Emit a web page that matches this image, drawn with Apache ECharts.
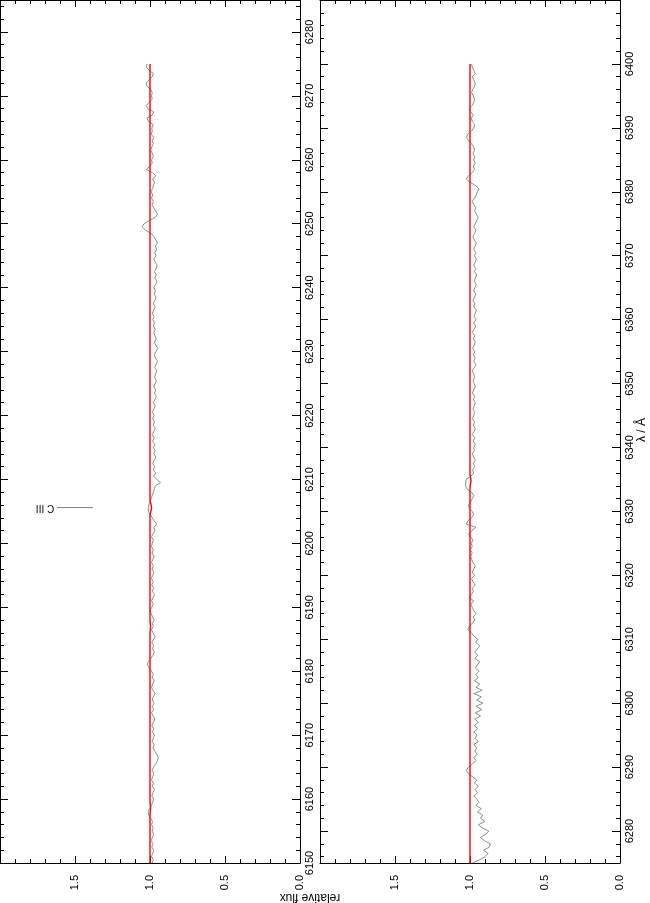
<!DOCTYPE html>
<html><head><meta charset="utf-8">
<script src="https://cdn.jsdelivr.net/npm/echarts@6/dist/echarts.min.js"></script>
<style>html,body{margin:0;padding:0;background:#fff}#c{width:650px;height:903px}</style>
</head><body><div id="c"></div>
<script>
// wavelength grid of the spectra (Angstrom)
const lamStep = 0.5;
const leftStart = 6150;
const rightStart = 6275;
const leftRange = [6150, 6285];
const rightRange = [6275, 6410];
const fluxRange = [0, 2];

// observed relative flux, left panel (6150 - 6275 A)
const leftFlux = [
0.985,0.978,0.990,0.982,0.975,0.988,0.980,0.992,0.984,0.976,
0.986,0.979,0.990,0.983,0.995,1.008,1.012,1.004,0.990,0.982,
0.975,0.988,0.980,0.970,0.985,0.978,0.990,0.982,0.974,0.986,
0.975,0.962,0.950,0.945,0.955,0.968,0.980,0.972,0.985,0.978,
0.970,0.983,0.975,0.988,0.978,0.968,0.980,0.990,0.976,0.984,
0.972,0.985,0.978,0.966,0.980,0.990,0.982,0.972,0.986,0.978,
0.990,1.005,1.018,1.012,0.995,0.980,0.970,0.984,0.976,0.988,
0.975,0.966,0.980,0.990,0.978,0.985,0.972,0.982,0.992,1.000,
0.988,0.978,0.990,0.980,0.970,0.984,0.976,0.988,0.978,0.992,
0.982,0.974,0.986,0.978,0.990,0.982,0.972,0.986,0.978,0.990,
0.985,0.978,0.990,0.980,0.966,0.975,0.955,0.972,0.985,0.998,
1.010,1.012,1.008,1.000,0.992,0.985,0.978,0.970,0.965,0.930,
0.955,0.975,0.962,0.978,0.968,0.982,0.972,0.960,0.975,0.965,
0.978,0.968,0.982,0.972,0.985,0.975,0.965,0.978,0.970,0.982,
0.972,0.984,0.975,0.965,0.978,0.968,0.958,0.970,0.962,0.975,
0.965,0.958,0.970,0.962,0.955,0.968,0.960,0.950,0.964,0.972,
0.960,0.948,0.962,0.970,0.958,0.968,0.975,0.965,0.978,0.970,
0.982,0.972,0.985,0.975,0.965,0.978,0.968,0.960,0.972,0.964,
0.975,0.962,0.955,0.968,0.958,0.970,0.960,0.952,0.965,0.975,
0.960,0.968,0.955,0.965,0.950,0.962,0.975,0.992,1.030,1.052,
1.040,1.005,0.965,0.950,0.962,0.975,0.985,0.978,0.990,0.982,
0.992,0.984,0.976,0.970,0.984,0.960,0.985,1.025,1.000,0.985,
0.990,0.978,0.985,0.995,0.988,0.978,0.985,0.975,0.992,0.985,
0.988,0.978,1.010,1.020,0.985,0.975,1.015,1.025,1.005,0.985,
0.990,0.985,0.995,1.020,1.025,1.005,0.985,0.978,1.005,1.025,
1.020
];

// observed relative flux, right panel (6275 - 6400 A)
const rightFlux = [
0.985,0.935,0.900,0.880,0.910,0.870,0.865,0.905,0.930,0.895,
0.875,0.920,0.945,0.900,0.930,0.915,0.950,0.925,0.960,0.940,
0.955,0.975,0.950,0.965,0.945,0.970,0.955,0.985,1.010,1.025,
1.010,0.985,0.960,0.975,0.950,0.968,0.955,0.975,0.945,0.965,
0.955,0.975,0.950,0.970,0.945,0.968,0.930,0.965,0.920,0.960,
0.915,0.955,0.925,0.975,0.920,0.960,0.935,0.970,0.945,0.960,
0.940,0.965,0.950,0.935,0.968,0.948,0.970,0.950,0.935,0.962,
0.948,0.975,0.990,1.015,1.005,0.985,0.968,0.978,0.960,0.975,
0.985,0.995,0.975,1.005,0.990,0.978,0.985,0.965,0.980,0.990,
0.970,0.985,0.975,0.965,0.980,0.990,0.995,0.985,0.998,0.985,
0.992,0.980,0.995,1.010,0.985,0.960,1.025,1.015,0.990,0.975,
0.985,1.005,1.010,0.995,0.985,0.975,0.990,1.020,1.030,1.028,
1.025,0.995,0.975,0.982,0.968,0.978,0.965,0.975,0.985,0.970,
0.975,0.965,0.978,0.968,0.985,0.972,0.965,0.978,0.970,0.985,
0.975,0.968,0.980,0.972,0.965,0.978,0.968,0.985,0.975,0.965,
0.972,0.980,0.968,0.975,0.985,0.970,0.962,0.975,0.965,0.978,
0.968,0.982,0.972,0.965,0.978,0.968,0.985,0.972,0.962,0.975,
0.960,0.972,0.965,0.958,0.975,0.968,0.980,0.970,0.962,0.975,
0.968,0.958,0.972,0.965,0.955,0.970,0.962,0.975,0.965,0.958,
0.970,0.962,0.975,0.965,0.958,0.972,0.980,0.968,0.960,0.975,
0.965,0.955,0.945,0.958,0.970,0.962,0.975,0.985,0.970,0.958,
0.950,0.942,0.965,1.000,1.025,1.010,0.985,0.970,0.978,0.965,
0.975,0.968,0.980,0.970,0.975,0.990,1.010,1.025,1.015,0.990,
0.975,0.968,0.985,0.992,0.978,0.995,1.005,0.985,0.975,0.970,
0.978,0.990,0.982,0.970,0.965,0.975,0.985,0.965,0.975,0.985,
0.990
];

// model fit (red), [wavelength, flux]
const leftFitLam  = [6150, 6157.5, 6158.6, 6159.7, 6186.0, 6187.0, 6188.0, 6204.4, 6205.6, 6206.8, 6275];
const leftFitFlux = [1.000, 1.000, 0.996, 1.000, 1.000, 0.996, 1.000, 1.000, 0.989, 1.000, 1.000];
const rightFitLam  = [6275, 6333.8, 6334.8, 6335.8, 6400];
const rightFitFlux = [1.000, 1.000, 0.993, 1.000, 1.000];

// tick labels
const leftTicks  = [6150,6160,6170,6180,6190,6200,6210,6220,6230,6240,6250,6260,6270,6280];
const rightTicks = [6280,6290,6300,6310,6320,6330,6340,6350,6360,6370,6380,6390,6400];
const minorStep = 2;

// line identification
const lineLabel = 'C III';
const lineLam = 6205.6;
const lineFrom = 1.38, lineTo = 1.62, lineTextAt = 1.70;

const FONT = "'Liberation Sans', Arial, Helvetica, sans-serif";

function minors(r) {
  const out = [];
  for (let v = Math.ceil(r[0] / minorStep) * minorStep; v <= r[1]; v += minorStep) out.push(v);
  return out;
}
function pairs(start, arr) { return arr.map((f, i) => [f, start + i * lamStep]); }
function zip(l, f) { return l.map((v, i) => [f[i], v]); }

const grids = [
  { left: 0, top: 0, width: 300, height: 863 },
  { left: 320, top: 0, width: 300, height: 863 }
];
const AX = { lineStyle: { color: '#000', width: 1 } };

const xAxes = [], yAxes = [];
[leftRange, rightRange].forEach((rng, g) => {
  const ticks = g === 0 ? leftTicks : rightTicks;
  ['bottom', 'top'].forEach(pos => {
    xAxes.push({
      type: 'value', gridIndex: g, position: pos, min: fluxRange[0], max: fluxRange[1],
      inverse: true, interval: 0.5, splitLine: { show: false },
      axisLine: { show: true, onZero: false, lineStyle: AX.lineStyle },
      axisTick: { show: true, inside: true, length: 7, lineStyle: AX.lineStyle },
      minorTick: { show: true, splitNumber: 5, length: 4, lineStyle: AX.lineStyle },
      axisLabel: pos === 'bottom' ? {
        show: true, rotate: 90, margin: 12, fontSize: 11, fontFamily: FONT, color: '#000',
        showMaxLabel: false, formatter: v => v.toFixed(1)
      } : { show: false }
    });
  });
  ['right', 'left'].forEach(pos => {
    yAxes.push({
      type: 'value', gridIndex: g, position: pos, min: rng[0], max: rng[1],
      splitLine: { show: false },
      axisLine: { show: true, onZero: false, lineStyle: AX.lineStyle },
      axisTick: { show: true, inside: true, length: 8, customValues: ticks, lineStyle: AX.lineStyle },
      axisLabel: pos === 'right' ? {
        show: true, rotate: 90, margin: 4, fontSize: 11, fontFamily: FONT, color: '#000',
        customValues: ticks, formatter: v => String(Math.round(v))
      } : { show: false }
    });
    yAxes.push({
      type: 'value', gridIndex: g, position: pos, min: rng[0], max: rng[1],
      splitLine: { show: false },
      axisLine: { show: false, onZero: false },
      axisTick: { show: true, inside: true, length: 4, customValues: minors(rng), lineStyle: AX.lineStyle },
      axisLabel: { show: false }
    });
  });
});

const lineCommon = { type: 'line', showSymbol: false, symbol: 'none', animation: false, silent: true };
const series = [
  Object.assign({}, lineCommon, { xAxisIndex: 0, yAxisIndex: 0, data: pairs(leftStart, leftFlux),
    lineStyle: { color: '#808080', width: 0.9 } }),
  Object.assign({}, lineCommon, { xAxisIndex: 0, yAxisIndex: 0, data: zip(leftFitLam, leftFitFlux),
    lineStyle: { color: '#ff0000', width: 1.4 } }),
  Object.assign({}, lineCommon, { xAxisIndex: 2, yAxisIndex: 4, data: pairs(rightStart, rightFlux),
    lineStyle: { color: '#808080', width: 0.9 } }),
  Object.assign({}, lineCommon, { xAxisIndex: 2, yAxisIndex: 4, data: zip(rightFitLam, rightFitFlux),
    lineStyle: { color: '#ff0000', width: 1.4 } }),
  Object.assign({}, lineCommon, { xAxisIndex: 0, yAxisIndex: 0, data: [[lineFrom, lineLam], [lineTo, lineLam]],
    lineStyle: { color: '#808080', width: 1 } })
];

const chart = echarts.init(document.getElementById('c'), null, { renderer: 'canvas' });
chart.setOption({
  animation: false,
  backgroundColor: '#fff',
  grid: grids,
  xAxis: xAxes,
  yAxis: yAxes,
  series: series
});

const p = chart.convertToPixel({ xAxisIndex: 0, yAxisIndex: 0 }, [lineTextAt, lineLam]);
chart.setOption({
  graphic: [
    { type: 'text', x: p[0], y: p[1], rotation: Math.PI,
      style: { text: lineLabel, font: '10px ' + FONT, fill: '#000', align: 'center', verticalAlign: 'middle',
               textAlign: 'center', textVerticalAlign: 'middle' } },
    { type: 'text', x: 310, y: 897, rotation: Math.PI,
      style: { text: 'relative flux', font: '12px ' + FONT, fill: '#000', align: 'center', verticalAlign: 'middle',
               textAlign: 'center', textVerticalAlign: 'middle' } },
    { type: 'text', x: 642, y: 430, rotation: Math.PI / 2,
      style: { text: 'λ / Å', font: '12px ' + FONT, fill: '#000', align: 'center', verticalAlign: 'middle',
               textAlign: 'center', textVerticalAlign: 'middle' } }
  ]
});
</script></body></html>
